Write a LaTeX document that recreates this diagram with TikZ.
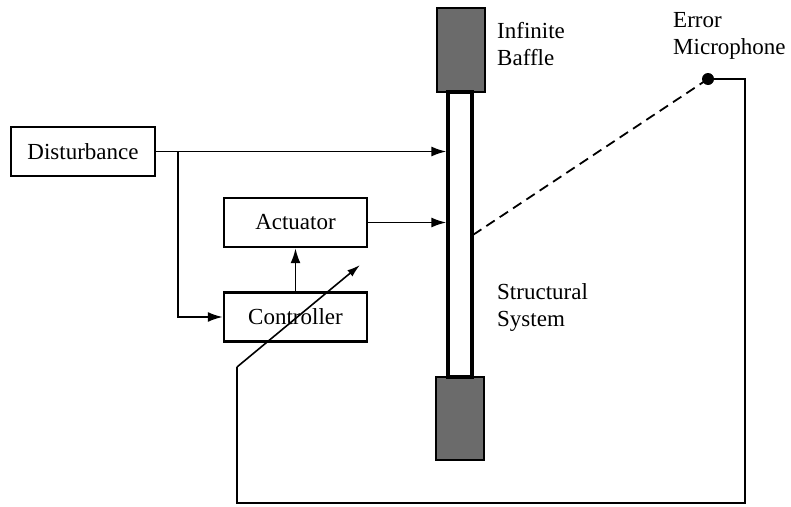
\documentclass[tikz,border=0pt]{standalone}
\usepackage{fontspec}
\setmainfont{Liberation Serif}
\usetikzlibrary{arrows.meta,positioning,calc}

\begin{document}
\begin{tikzpicture}[
  x=1pt, y=-1pt,
  block/.style={draw, line width=2.4pt, minimum width=143pt, minimum height=49pt,
    inner sep=0pt, align=center},
  baffle/.style={draw, line width=2pt, fill=black!58, minimum width=48pt,
    minimum height=84pt, inner sep=0pt},
  plate/.style={draw, line width=3.2pt, fill=white, minimum width=24pt,
    minimum height=285pt, inner sep=0pt},
  arr/.style={-{Latex[length=15pt,width=10pt]}, line width=1.9pt},
  wire/.style={line width=1.8pt},
  lbl/.style={align=left, inner sep=0pt, anchor=north west}
]
  \useasboundingbox (0,0) rectangle (791,506);
  \fontsize{23}{27}\selectfont

  \node[block, minimum width=144pt] (dist) at (83,151.5) {Disturbance};
  \node[block] (act)  at (295.5,222.5) {Actuator};
  \node[block] (ctrl) at (295.5,317) {Controller};

  \node[baffle] (top) at (461,50) {};
  \node[baffle, minimum height=83pt] (bot) at (460,418.5) {};
  \node[plate] (plate) at (460,234.5) {};

  \node[lbl] (baffle-lbl) at (497,22) {Infinite\\Baffle};
  \node[lbl] (struct-lbl) at (497,283) {Structural\\System};
  \node[lbl] (mic-lbl) at (673,12) {Error\\Microphone};

  \node[circle, fill=black, minimum size=12pt, inner sep=0pt] (mic) at (708,79) {};

  % forward paths
  \coordinate (split) at (178,151.5);
  \draw[arr] (dist.east) -- (plate.west |- dist.east);
  \draw[arr] (split) |- (ctrl.west);
  \draw[arr] (act.east) -- (plate.west |- act.east);
  \draw[arr] (ctrl.north) -- (act.south);

  % acoustic path to microphone
  \draw[line width=1.8pt, dash pattern=on 10pt off 6pt] (mic.center) -- (plate.east);

  % error feedback
  \coordinate (fb1) at (745,79);
  \coordinate (fb2) at (745,503);
  \coordinate (fb3) at (237,503);
  \coordinate (fb4) at (237,367);
  \coordinate (fbtip) at (360,265);
  \draw[wire] (mic.center) -- (fb1) -- (fb2) -- (fb3) -- (fb4);
  \draw[arr, -{Latex[length=13pt,width=8pt]}, line width=1.6pt] (fb4) -- (fbtip);
\end{tikzpicture}
\end{document}
